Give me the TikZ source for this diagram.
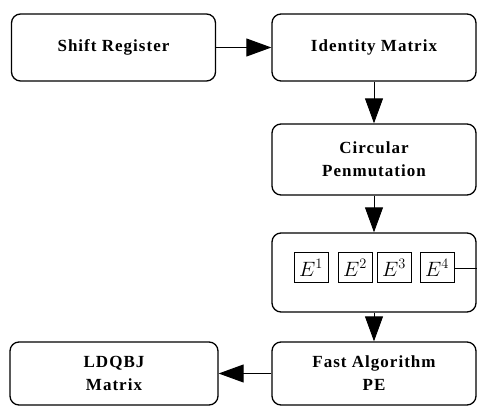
\documentclass[tikz,border=0pt]{standalone}
\usepackage{fontspec}
\setmainfont{Liberation Serif}[LetterSpace=6]
\usetikzlibrary{arrows.meta}
\usetikzlibrary{positioning}
\tikzset{>={Triangle[length=25pt,width=18pt]}}

\begin{document}
\begin{tikzpicture}
	[x=1pt,y=1pt,line width=1.3pt,
	block/.style={draw,rounded corners=9pt,align=center,inner sep=0pt,
		minimum width=204pt,minimum height=67pt,
		font=\fontsize{17}{23}\selectfont\bfseries},
	ebox/.style={draw,line width=1pt,inner sep=0pt,
		minimum width=34pt,minimum height=30pt,font=\fontsize{21}{22}\selectfont},
	link/.style={line width=0.9pt}]
	\useasboundingbox (0,0) rectangle (477,406);
	\node [block] (shift) at (113.5,358.5) {Shift Register};
	\node [block] (ident) at (374,358.5) {Identity Matrix};
	\node [block,minimum height=71pt] (circ) at (374,246.5) {Circular\\Penmutation};
	\node [block,minimum height=79pt] (erow) at (374,133.5) {};
	\node [block,minimum height=63pt] (fast) at (374,32.5) {Fast Algorithm\\PE};
	\node [block,minimum width=208pt,minimum height=63pt] (ldqbj) at (114,32.5) {LDQBJ\\Matrix};
	\foreach \i/\x in {1/311,2/355,3/394,4/437}
		\node [ebox] (e\i) at (\x,138) {$E^{\i}$};
	\coordinate (eout) at (477,138);
	\draw[link] (e4) -- (eout);
	\draw[link,->] (shift) -- (ident);
	\draw[link,->] (ident) -- (circ);
	\draw[link,->] (circ) -- (erow);
	\draw[link,->] (erow) -- (fast);
	\draw[link,->] (fast) -- (ldqbj);
\end{tikzpicture}
\end{document}
